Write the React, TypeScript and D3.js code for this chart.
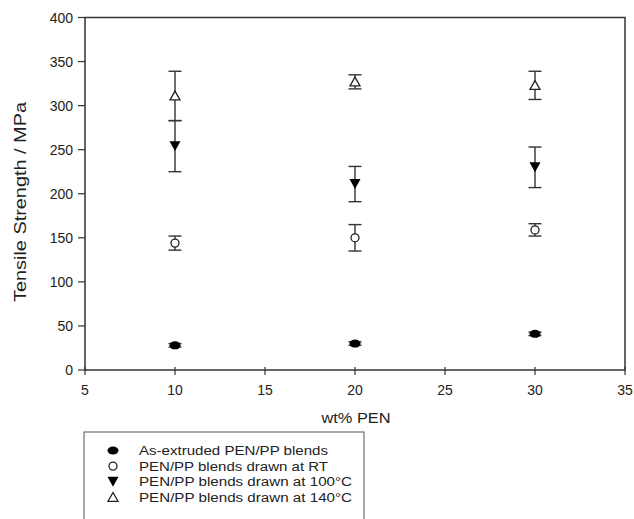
import React from "react";
import * as d3 from "d3";

const xValues = [10, 20, 30];
const asExtruded = [28, 30, 41];
const asExtrudedErr = [2, 2, 2];
const drawnRT = [144, 150, 159];
const drawnRTErr = [8, 15, 7];
const drawn100 = [254, 211, 230];
const drawn100Err = [29, 20, 23];
const drawn140 = [311, 327, 323];
const drawn140Err = [28, 8, 16];
const xTicks = [5, 10, 15, 20, 25, 30, 35];
const yTicks = [0, 50, 100, 150, 200, 250, 300, 350, 400];
const legendLabels = [
  "As-extruded PEN/PP blends",
  "PEN/PP blends drawn at RT",
  "PEN/PP blends drawn at 100°C",
  "PEN/PP blends drawn at 140°C",
];
const legendWidths = [189, 189, 213, 213];

const W = 634;
const H = 519;
const left = 85, right = 625, top = 17.5, bottom = 370;
const FONT = "'Liberation Sans', Arial, sans-serif";
const INK = "#222";

const x = d3.scaleLinear().domain([5, 35]).range([left, right]);
const y = d3.scaleLinear().domain([0, 400]).range([bottom, top]);

type Kind = "fcircle" | "ocircle" | "fdown" | "oup";

function Marker({ kind, cx, cy }: { kind: Kind; cx: number; cy: number }) {
  if (kind === "fcircle") return <ellipse cx={cx} cy={cy} rx={5.5} ry={4} fill="#000" />;
  if (kind === "ocircle") return <circle cx={cx} cy={cy} r={4} fill="#fff" stroke={INK} strokeWidth={1.3} />;
  if (kind === "fdown") {
    const s = 5.5;
    const p = d3.path();
    p.moveTo(cx - s, cy - s * 0.9);
    p.lineTo(cx + s, cy - s * 0.9);
    p.lineTo(cx, cy + s * 0.9);
    p.closePath();
    return <path d={p.toString()} fill="#000" />;
  }
  const s = 5;
  const p = d3.path();
  p.moveTo(cx - s, cy + s * 0.8);
  p.lineTo(cx + s, cy + s * 0.8);
  p.lineTo(cx, cy - s * 0.95);
  p.closePath();
  return <path d={p.toString()} fill="#fff" stroke={INK} strokeWidth={1.3} />;
}

const series: { kind: Kind; vals: number[]; err: number[] }[] = [
  { kind: "fcircle", vals: asExtruded, err: asExtrudedErr },
  { kind: "ocircle", vals: drawnRT, err: drawnRTErr },
  { kind: "fdown", vals: drawn100, err: drawn100Err },
  { kind: "oup", vals: drawn140, err: drawn140Err },
];

export default function App() {
  const cap = 6.5;
  return (
    <svg width={W} height={H} style={{ position: "absolute", left: 0, top: 0 }} fontFamily={FONT}>
      <rect width={W} height={H} fill="#fff" />
      {/* frame */}
      <rect x={left} y={top} width={right - left} height={bottom - top} fill="none" stroke="#333" strokeWidth={1.5} />
      {/* y ticks */}
      {yTicks.map((t) => (
        <g key={"y" + t}>
          <line x1={left - 7} x2={left} y1={y(t)} y2={y(t)} stroke="#333" strokeWidth={1.2} />
          <text x={left - 12} y={y(t) + 5} fontSize={14} textAnchor="end" fill={INK}>{t}</text>
        </g>
      ))}
      {/* x ticks */}
      {xTicks.map((t) => (
        <g key={"x" + t}>
          <line x1={x(t)} x2={x(t)} y1={bottom - 3} y2={bottom + 5} stroke="#333" strokeWidth={1.2} />
          <text x={x(t)} y={395} fontSize={14} textAnchor="middle" fill={INK}>{t}</text>
        </g>
      ))}
      <text x={356} y={423} fontSize={14.5} textAnchor="middle" textLength={69} lengthAdjust="spacingAndGlyphs" fill={INK}>wt% PEN</text>
      <text transform={`translate(25.5,202) rotate(-90)`} fontSize={16} textAnchor="middle" textLength={200} lengthAdjust="spacingAndGlyphs" fill={INK}>
        Tensile Strength / MPa
      </text>
      {/* error bars */}
      {series.map((s) =>
        s.vals.map((v, i) => {
          const cx = x(xValues[i]);
          const y1 = y(v + s.err[i]);
          const y2 = y(v - s.err[i]);
          return (
            <g key={s.kind + "e" + i} stroke="#333" strokeWidth={1.4}>
              <line x1={cx} x2={cx} y1={y1} y2={y2} />
              <line x1={cx - cap} x2={cx + cap} y1={y1} y2={y1} />
              <line x1={cx - cap} x2={cx + cap} y1={y2} y2={y2} />
            </g>
          );
        })
      )}
      {series.map((s) =>
        s.vals.map((v, i) => <Marker key={s.kind + "m" + i} kind={s.kind} cx={x(xValues[i])} cy={y(v)} />)
      )}
      {/* legend */}
      <rect x={84} y={432} width={280} height={100} fill="#fff" stroke="#555" strokeWidth={1} />
      {legendLabels.map((lab, i) => {
        const cy = 450.5 + i * 15.6;
        return (
          <g key={lab}>
            <Marker kind={series[i].kind} cx={113} cy={cy} />
            <text x={139} y={cy + 4.5} fontSize={12} textLength={legendWidths[i]} lengthAdjust="spacingAndGlyphs" fill={INK}>{lab}</text>
          </g>
        );
      })}
    </svg>
  );
}
